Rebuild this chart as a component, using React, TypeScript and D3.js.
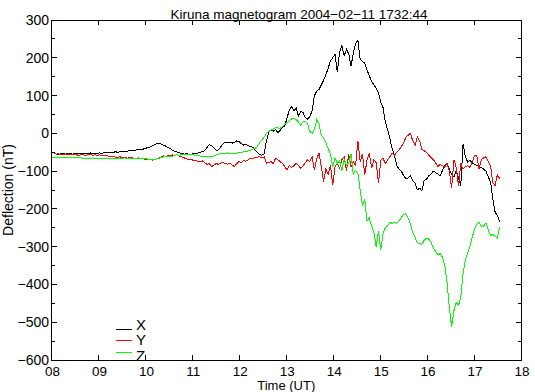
import React, { useEffect, useRef } from 'react';
import * as d3 from 'd3';

// Sampling of the magnetometer series (hours UT), last sample at 17:32:44
const startHour = 8;
const sampleStep = 0.0487;

// X component (nT), one row per ~hour of samples
const xSeries = [
  -50, -52, -55, -56, -54, -53, -55, -54, -53, -55, -54, -53, -54, -55, -53, -54, -53, -52, -54, -53,
  -53, -52, -53, -51, -52, -50, -51, -50, -49, -50, -49, -48, -47, -48, -46, -45, -46, -44, -43, -44,
  -42, -40, -38, -36, -33, -30, -27, -26, -29, -31, -34, -38, -40, -45, -48, -50, -52, -53, -55, -54,
  -55, -56, -54, -53, -52, -50, -49, -45, -38, -30, -32, -38, -45, -44, -36, -28, -24, -25, -24, -26,
  -24, -20, -22, -27, -31, -29, -33, -34, -37, -44, -50, -56, -58, -55, -20, 2, 9, 6, 10, 2,
  8, 15, 20, 40, 62, 70, 60, 67, 46, 58, 55, 42, 38, 45, 60, 100, 112, 116, 128, 140,
  155, 172, 192, 200, 210, 162, 215, 232, 205, 222, 210, 178, 212, 238, 246, 196, 190, 186, 168, 152,
  138, 128, 120, 108, 82, 68, 30, 10, -15, -40, -60, -85, -95, -100, -112, -120, -118, -112, -125, -132,
  -150, -145, -152, -125, -122, -112, -108, -100, -104, -108, -112, -98, -85, -80, -95, -108, -115, -100, -118, -138,
  -28, -62, -76, -72, -78, -82, -85, -88, -90, -95, -100, -115, -128, -172, -208, -218, -234,
];

// Y component (nT)
const ySeries = [
  -50, -52, -55, -54, -56, -55, -57, -56, -55, -57, -56, -57, -58, -56, -57, -58, -57, -56, -58, -57,
  -58, -57, -59, -60, -58, -61, -62, -60, -63, -64, -62, -65, -63, -66, -65, -64, -67, -66, -65, -68,
  -66, -69, -70, -68, -71, -70, -67, -65, -63, -60, -62, -58, -60, -57, -59, -56, -60, -62, -65, -67,
  -70, -68, -72, -71, -74, -76, -73, -78, -82, -80, -88, -84, -80, -82, -79, -77, -80, -82, -79, -84,
  -88, -80, -75, -77, -72, -74, -70, -66, -68, -64, -63, -62, -65, -62, -79, -78, -75, -80, -66, -70,
  -75, -80, -88, -97, -84, -90, -86, -79, -85, -93, -86, -78, -70, -75, -62, -97, -66, -53, -88, -128,
  -95, -108, -85, -137, -88, -80, -92, -70, -62, -100, -55, -90, -75, -85, -20, -75, -55, -110, -70, -52,
  -92, -70, -78, -132, -72, -66, -80, -70, -62, -53, -58, -50, -44, -35, -26, -10, -5, 0, -20, -32,
  -10, -20, -42, -46, -50, -58, -64, -70, -78, -88, -82, -86, -90, -80, -100, -145, -70, -90, -140, -80,
  -95, -88, -86, -90, -75, -60, -58, -95, -70, -65, -62, -75, -85, -130, -138, -110, -120,
];

// Z component (nT)
const zSeries = [
  -63, -63, -63, -64, -63, -63, -63, -64, -63, -63, -63, -64, -65, -65, -66, -66, -66, -66, -65, -66,
  -66, -66, -66, -66, -65, -66, -66, -66, -66, -66, -66, -66, -65, -66, -66, -67, -66, -66, -67, -66,
  -66, -67, -68, -69, -68, -69, -67, -66, -64, -62, -62, -60, -61, -60, -58, -57, -58, -56, -55, -57,
  -56, -55, -57, -58, -59, -60, -61, -62, -61, -63, -62, -60, -57, -55, -53, -54, -53, -52, -53, -54,
  -53, -52, -51, -50, -49, -48, -47, -45, -42, -40, -35, -25, -18, -10, 0, 5, 9, 12, 15, 14,
  13, 18, 24, 28, 34, 38, 40, 36, 30, 22, 30, 32, 25, 5, 0, 10, 36, 25, -5, -12,
  -25, -40, -55, -88, -65, -80, -72, -100, -68, -85, -78, -55, -108, -98, -105, -150, -190, -176, -232, -225,
  -245, -262, -300, -258, -308, -265, -250, -245, -236, -238, -235, -238, -232, -222, -215, -212, -225, -240, -262, -275,
  -290, -292, -294, -283, -278, -280, -288, -304, -312, -322, -318, -328, -350, -395, -460, -512, -470, -448, -455, -435,
  -370, -335, -318, -300, -275, -255, -240, -235, -248, -245, -238, -255, -270, -268, -272, -278, -247,
];

const seriesNames = ['X', 'Y', 'Z'];
const seriesColors = ['#000000', '#ff0000', '#00ff00'];

const hourTicks = [8, 9, 10, 11, 12, 13, 14, 15, 16, 17, 18];
const deflectionTicks = [300, 200, 100, 0, -100, -200, -300, -400, -500, -600];
const deflectionMinorTicks = [250, 150, 50, -50, -150, -250, -350, -450, -550];

const App: React.FC = () => {
  const svgRef = useRef<SVGSVGElement>(null);

  const width = 535;
  const height = 392;
  const margin = { left: 51.5, right: 14, top: 20, bottom: 32 };
  const font = '"Liberation Sans", Arial, Helvetica, sans-serif';

  useEffect(() => {
    if (!svgRef.current) return;
    const svg = d3.select(svgRef.current);
    svg.selectAll('*').remove();

    const x = d3.scaleLinear().domain([8, 18]).range([margin.left, width - margin.right]);
    const y = d3.scaleLinear().domain([-600, 300]).range([height - margin.bottom, margin.top]);

    const x0 = x.range()[0], x1 = x.range()[1];
    const y0 = y.range()[0], y1 = y.range()[1];

    // Series (drawn aliased like the original plot)
    const allSeries = [xSeries, ySeries, zSeries];
    const line = d3.line<number>()
      .x((_, i) => x(startHour + i * sampleStep))
      .y(d => y(d));

    allSeries.forEach((s, k) => {
      svg.append('path')
        .datum(s)
        .attr('d', line)
        .attr('fill', 'none')
        .attr('stroke', seriesColors[k])
        .attr('stroke-width', 1)
        .attr('shape-rendering', 'crispEdges');
    });

    // Legend
    const legend = svg.append('g');
    seriesNames.forEach((name, k) => {
      const ly = [329, 340.5, 352][k];
      legend.append('line')
        .attr('x1', 116).attr('x2', 132)
        .attr('y1', ly).attr('y2', ly)
        .attr('stroke', seriesColors[k]).attr('stroke-width', 1)
        .attr('shape-rendering', 'crispEdges');
      legend.append('text')
        .attr('x', 136).attr('y', 329.5 + k * 15.5)
        .attr('font-family', font).attr('font-size', 15)
        .text(name);
    });

    // Frame
    svg.append('rect')
      .attr('x', x0).attr('y', y1)
      .attr('width', x1 - x0).attr('height', y0 - y1)
      .attr('fill', 'none').attr('stroke', '#000').attr('stroke-width', 1)
      .attr('shape-rendering', 'crispEdges');

    const ticks = svg.append('g')
      .attr('stroke', '#000').attr('stroke-width', 1)
      .attr('shape-rendering', 'crispEdges');

    hourTicks.forEach(h => {
      ticks.append('line').attr('x1', x(h)).attr('x2', x(h)).attr('y1', y0).attr('y2', y0 - 5);
      ticks.append('line').attr('x1', x(h)).attr('x2', x(h)).attr('y1', y1).attr('y2', y1 + 5);
    });
    deflectionTicks.forEach(v => {
      ticks.append('line').attr('x1', x0).attr('x2', x0 + 5).attr('y1', y(v)).attr('y2', y(v));
      ticks.append('line').attr('x1', x1).attr('x2', x1 - 5).attr('y1', y(v)).attr('y2', y(v));
    });
    deflectionMinorTicks.forEach(v => {
      ticks.append('line').attr('x1', x0).attr('x2', x0 + 3).attr('y1', y(v)).attr('y2', y(v));
      ticks.append('line').attr('x1', x1).attr('x2', x1 - 3).attr('y1', y(v)).attr('y2', y(v));
    });

    // Tick labels
    const fmtHour = d3.format('02d');
    const fmtVal = d3.format('d');
    svg.append('g').selectAll('text')
      .data(hourTicks)
      .enter()
      .append('text')
      .attr('x', d => x(d) + 1)
      .attr('y', y0 + 16)
      .attr('text-anchor', 'middle')
      .attr('font-family', font).attr('font-size', 13.5)
      .text(d => fmtHour(d));

    svg.append('g').selectAll('text')
      .data(deflectionTicks)
      .enter()
      .append('text')
      .attr('x', x0 - 2.5)
      .attr('y', d => y(d) + 5)
      .attr('text-anchor', 'end')
      .attr('font-family', font).attr('font-size', 14)
      .text(d => fmtVal(d));

    // Titles
    svg.append('text')
      .attr('x', 299).attr('y', 19)
      .attr('text-anchor', 'middle')
      .attr('font-family', font).attr('font-size', 13.5)
      .text('Kiruna magnetogram 2004\u221202\u221211 1732:44');

    svg.append('text')
      .attr('x', (x0 + x1) / 2).attr('y', 390)
      .attr('text-anchor', 'middle')
      .attr('font-family', font).attr('font-size', 13)
      .text('Time (UT)');

    svg.append('text')
      .attr('transform', `translate(13, ${(y0 + y1) / 2}) rotate(-90)`)
      .attr('text-anchor', 'middle')
      .attr('font-family', font).attr('font-size', 14)
      .text('Deflection (nT)');
  }, []);

  return (
    <svg
      ref={svgRef}
      width={width}
      height={height}
      style={{ position: 'absolute', left: 0, top: 0, background: '#fff' }}
    />
  );
};

export default App;
